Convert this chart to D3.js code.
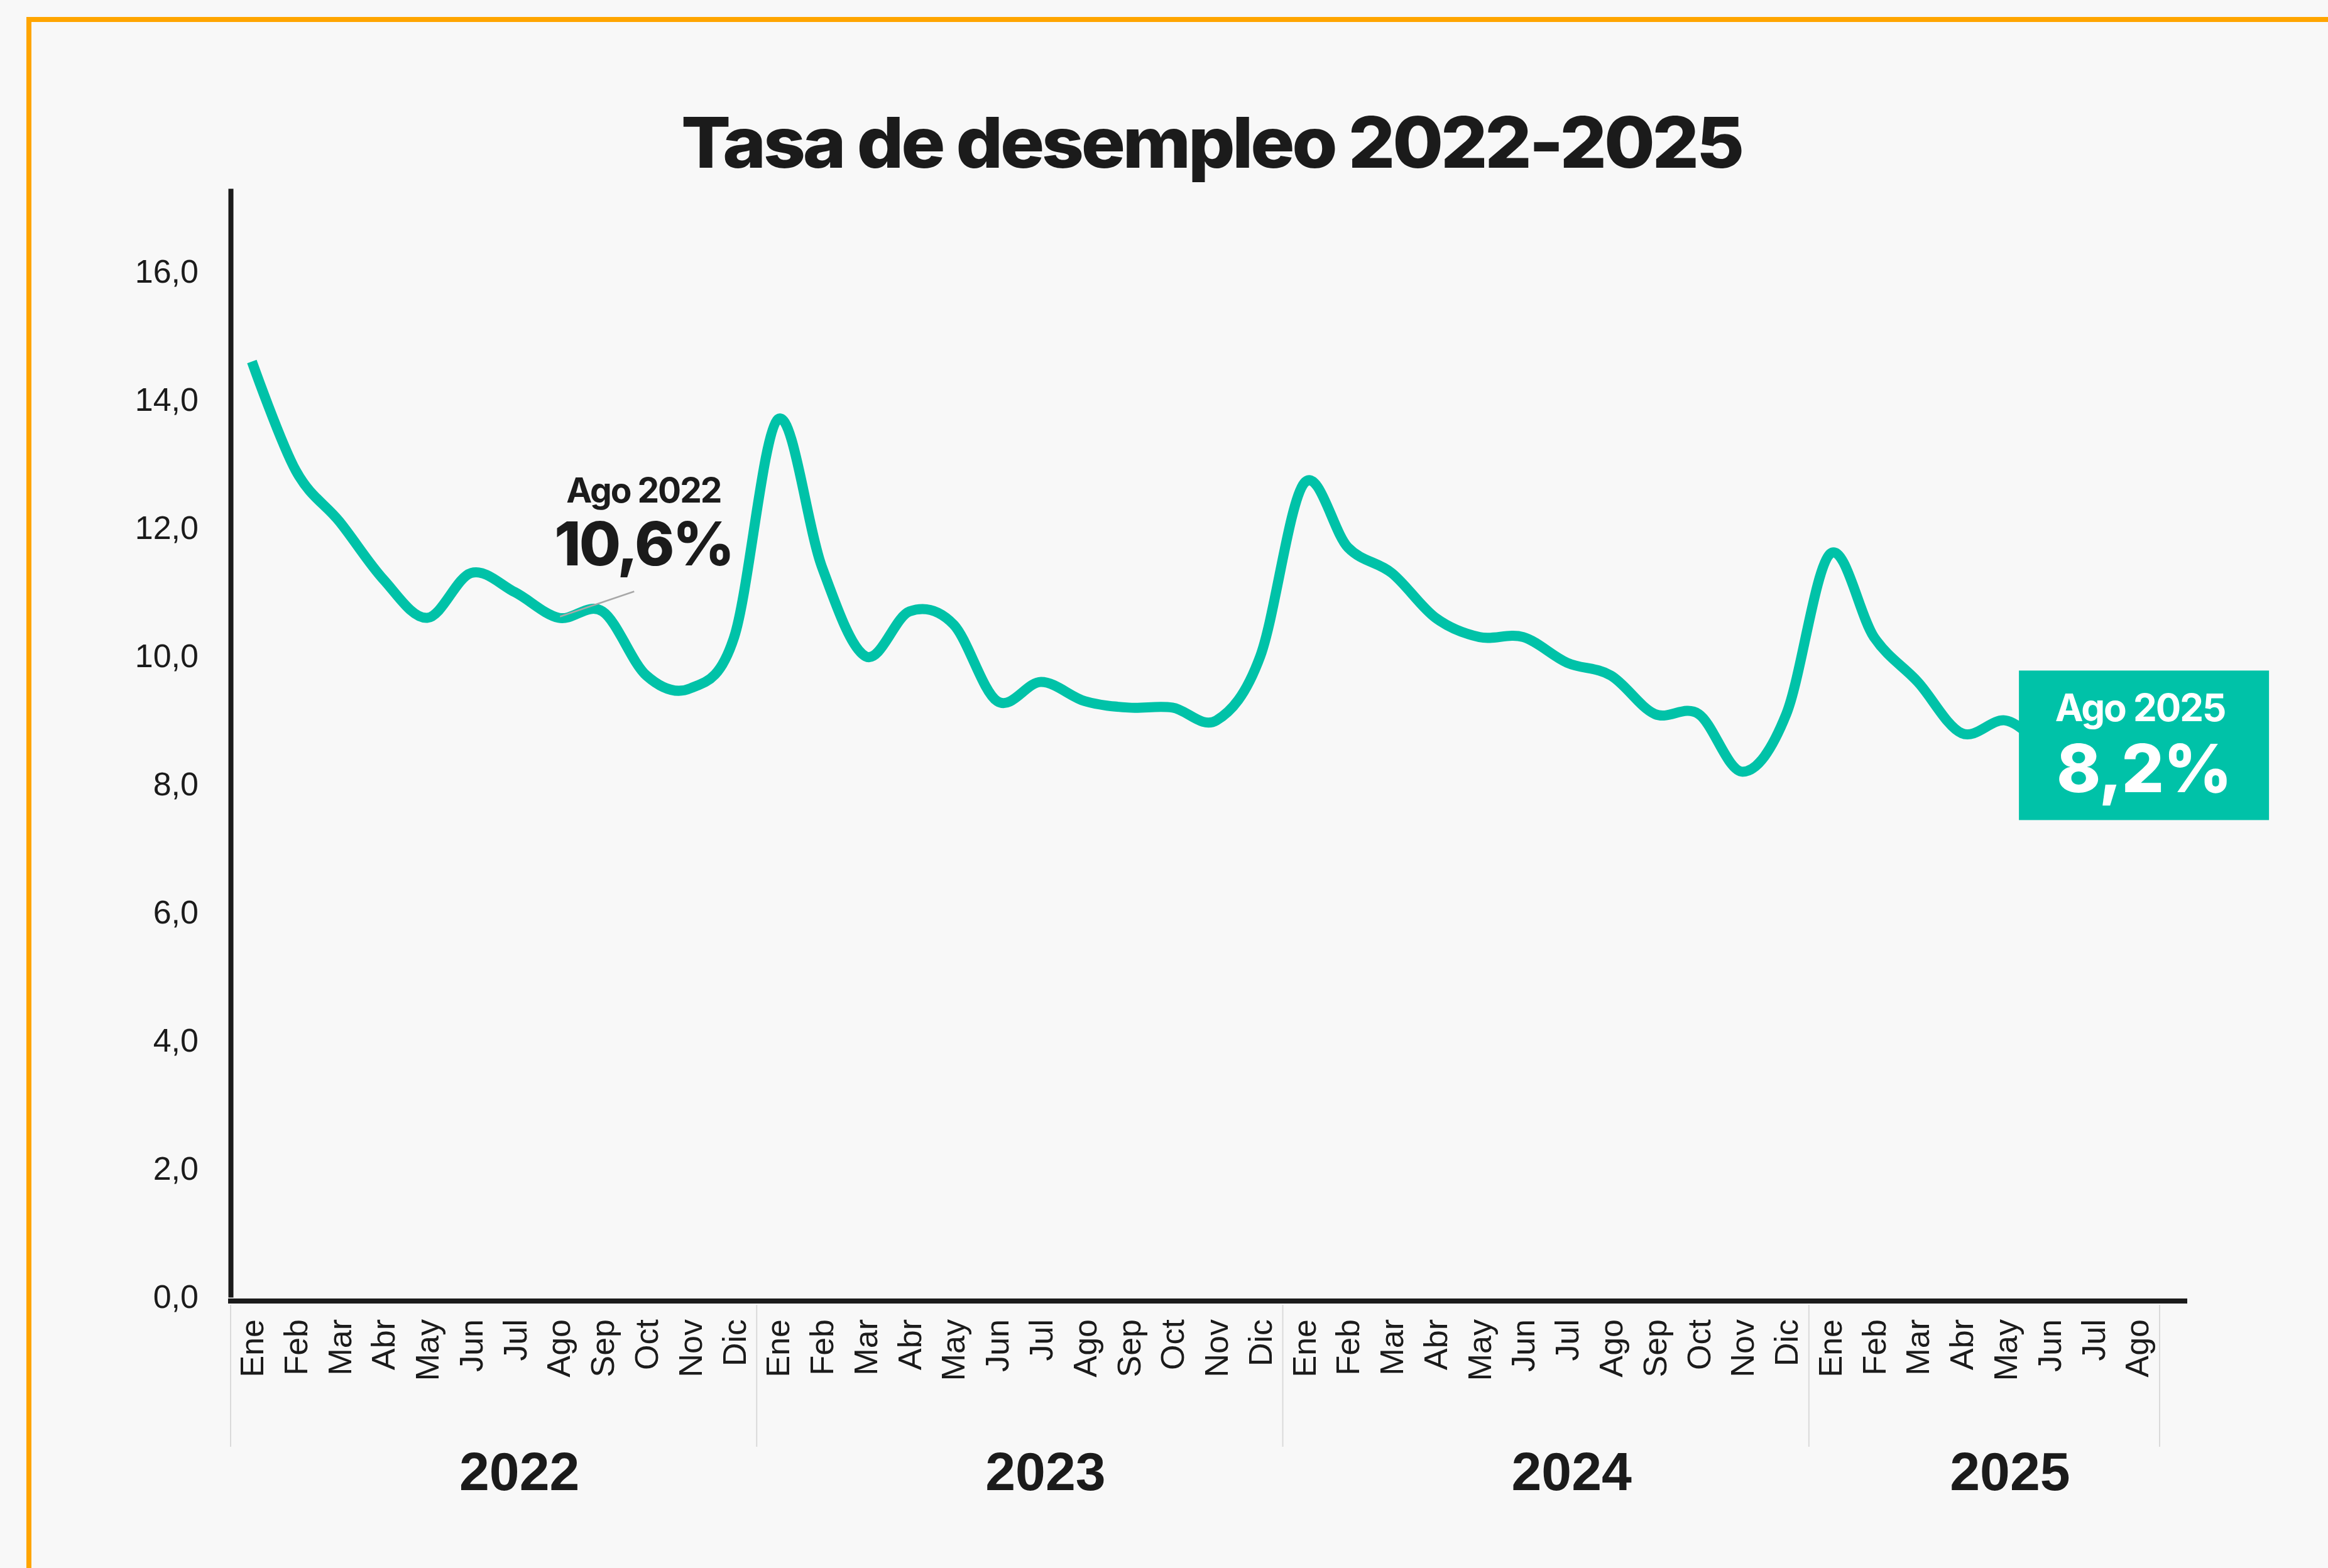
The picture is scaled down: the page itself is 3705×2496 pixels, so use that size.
<!DOCTYPE html>
<html>
<head>
<meta charset="utf-8">
<script src="https://cdn.jsdelivr.net/npm/d3@7"></script>
<style>
  html, body { margin: 0; padding: 0; background: #f8f8f8; }
  svg { display: block; }
</style>
</head>
<body>
<script>
var svgWidth = 3705;
var svgHeight = 2496;

// Data (desempleo, %)
var years = ["2022", "2023", "2024", "2025"];
var monthsPerYear = [12, 12, 12, 8];
var monthNames = ["Ene", "Feb", "Mar", "Abr", "May", "Jun", "Jul", "Ago", "Sep", "Oct", "Nov", "Dic"];
var rates = [
  14.6, 12.9, 12.1, 11.2, 10.6, 11.3, 11.0, 10.6, 10.7, 9.7, 9.5, 10.3,
  13.7, 11.4, 10.0, 10.7, 10.5, 9.3, 9.6, 9.3, 9.2, 9.2, 9.0, 10.0,
  12.7, 11.7, 11.3, 10.6, 10.3, 10.3, 9.9, 9.7, 9.1, 9.1, 8.2, 9.1,
  11.6, 10.3, 9.6, 8.8, 9.0, 8.6, 8.8, 8.2
];
var yTicks = [0, 2, 4, 6, 8, 10, 12, 14, 16];

// category list: one entry per month
var categories = [];
years.forEach(function(yr, i) {
  monthNames.slice(0, monthsPerYear[i]).forEach(function(m) {
    categories.push({ key: m + " " + yr, month: m, year: yr });
  });
});
var data = categories.map(function(c, i) { return { key: c.key, month: c.month, year: c.year, value: rates[i] }; });

var teal = "#00c2a8";
var ink = "#1b1b1b";

var svg = d3.select("body").append("svg")
  .attr("width", svgWidth)
  .attr("height", svgHeight);

svg.append("rect")
  .attr("width", svgWidth)
  .attr("height", svgHeight)
  .attr("fill", "#f8f8f8");

// orange frame (top + left)
svg.append("rect")
  .attr("x", 46).attr("y", 31)
  .attr("width", svgWidth).attr("height", svgHeight)
  .attr("fill", "none")
  .attr("stroke", "#ffa500")
  .attr("stroke-width", 8);

var x = d3.scaleBand()
  .domain(categories.map(function(c) { return c.key; }))
  .range([366, 3436])
  .padding(0);

var y = d3.scaleLinear()
  .domain([0, 17.3])
  .range([2065, 300]);

var loc = d3.formatLocale({ decimal: ",", thousands: ".", grouping: [3], currency: ["", ""] });
var fmt = loc.format(".1f");

// y axis
var yAxis = svg.append("g")
  .attr("transform", "translate(367,0)")
  .call(d3.axisLeft(y).tickValues(yTicks).tickSize(0).tickPadding(51).tickFormat(fmt));
yAxis.select(".domain").attr("stroke", ink).attr("stroke-width", 8);
yAxis.selectAll("text")
  .attr("fill", ink)
  .style("font-family", "'Liberation Sans', Arial, sans-serif")
  .style("font-size", "52px");

// x axis line
svg.append("line")
  .attr("x1", x.range()[0] - 3).attr("x2", x.range()[1] + 45)
  .attr("y1", y(0) + 6).attr("y2", y(0) + 6)
  .attr("stroke", ink)
  .attr("stroke-width", 8);

// month labels
var xAxis = svg.append("g")
  .attr("transform", "translate(0," + (y(0) + 35) + ")")
  .call(d3.axisBottom(x).tickSize(0).tickFormat(function(k) { return k.split(" ")[0]; }));
xAxis.select(".domain").remove();
xAxis.selectAll("text")
  .attr("transform", "rotate(-90)")
  .attr("x", 0)
  .attr("y", 0)
  .attr("dy", "0.35em")
  .attr("text-anchor", "end")
  .attr("fill", ink)
  .style("font-family", "'Liberation Sans', Arial, sans-serif")
  .style("font-size", "52px");

// year groups: separators + labels
var yearGroups = years.map(function(yr) {
  var keys = categories.filter(function(c) { return c.year === yr; }).map(function(c) { return c.key; });
  return { year: yr, x0: x(keys[0]), x1: x(keys[keys.length - 1]) + x.bandwidth() };
});
var seps = [yearGroups[0].x0].concat(yearGroups.map(function(g) { return g.x1; }));
svg.selectAll(".sep")
  .data(seps)
  .enter().append("line")
  .attr("class", "sep")
  .attr("x1", function(d) { return d + 1; }).attr("x2", function(d) { return d + 1; })
  .attr("y1", y(0) + 12).attr("y2", 2303)
  .attr("stroke", "#dadada")
  .attr("stroke-width", 2);

svg.selectAll(".yearLabel")
  .data(yearGroups)
  .enter().append("text")
  .attr("class", "yearLabel")
  .attr("x", function(d) { return (d.x0 + d.x1) / 2 + 42; })
  .attr("y", 2372)
  .attr("text-anchor", "middle")
  .attr("fill", ink)
  .style("font-family", "'Liberation Sans', Arial, sans-serif")
  .style("font-weight", "bold")
  .style("font-size", "86px")
  .text(function(d) { return d.year; });

// line
var line = d3.line()
  .x(function(d) { return x(d.key) + x.bandwidth() / 2; })
  .y(function(d) { return y(d.value); })
  .curve(d3.curveCardinal.tension(0));

svg.append("path")
  .datum(data)
  .attr("d", line)
  .attr("fill", "none")
  .attr("stroke", teal)
  .attr("stroke-width", 16)
  .attr("stroke-linejoin", "round");

// title
svg.append("text")
  .attr("x", 1928)
  .attr("y", 267)
  .attr("text-anchor", "middle")
  .attr("fill", ink)
  .attr("textLength", 1688)
  .attr("lengthAdjust", "spacingAndGlyphs")
  .style("font-family", "Inter, 'Noto Sans', sans-serif")
  .style("font-weight", "800")
  .style("font-size", "112px")
  .style("letter-spacing", "-4px")
  .text("Tasa de desempleo 2022-2025");

// annotation Ago 2022
var a1 = data.find(function(d) { return d.key === "Ago 2022"; });
var a1x = x(a1.key) + x.bandwidth() / 2;
var a1y = y(a1.value);
svg.append("line")
  .attr("x1", a1x + 2).attr("y1", a1y - 2)
  .attr("x2", a1x + 120).attr("y2", a1y - 42)
  .attr("stroke", "#a8a8a8")
  .attr("stroke-width", 2.5);
svg.append("text")
  .attr("x", a1x + 135).attr("y", a1y - 184)
  .attr("text-anchor", "middle")
  .attr("fill", ink)
  .style("font-family", "Inter, 'Noto Sans', sans-serif")
  .style("font-weight", "700")
  .style("font-size", "55px")
  .style("letter-spacing", "-2px")
  .text("Ago 2022");
svg.append("text")
  .attr("x", a1x + 135).attr("y", a1y - 84)
  .attr("text-anchor", "middle")
  .attr("fill", ink)
  .style("font-family", "Inter, 'Noto Sans', sans-serif")
  .style("font-weight", "800")
  .style("font-size", "96px")
  .style("letter-spacing", "-3px")
  .text(fmt(a1.value) + "%");

// box Ago 2025
var a2 = data[data.length - 1];
var a2x = x(a2.key) + x.bandwidth() / 2;
var a2y = y(a2.value);
var boxX = a2x - 188, boxY = a2y - 161, boxW = 398, boxH = 238;
svg.append("rect")
  .attr("x", boxX).attr("y", boxY)
  .attr("width", boxW).attr("height", boxH)
  .attr("fill", teal);
svg.append("text")
  .attr("x", boxX + boxW / 2 - 6).attr("y", boxY + 81)
  .attr("text-anchor", "middle")
  .attr("fill", "#ffffff")
  .style("font-family", "Inter, 'Noto Sans', sans-serif")
  .style("font-weight", "700")
  .style("font-size", "60px")
  .style("letter-spacing", "-2px")
  .text("Ago 2025");
svg.append("text")
  .attr("x", boxX + boxW / 2).attr("y", boxY + 194)
  .attr("text-anchor", "middle")
  .attr("fill", "#ffffff")
  .style("font-family", "Inter, 'Noto Sans', sans-serif")
  .style("font-weight", "800")
  .style("font-size", "106px")
  .style("letter-spacing", "-1px")
  .text(fmt(a2.value) + "%");
</script>
</body>
</html>
